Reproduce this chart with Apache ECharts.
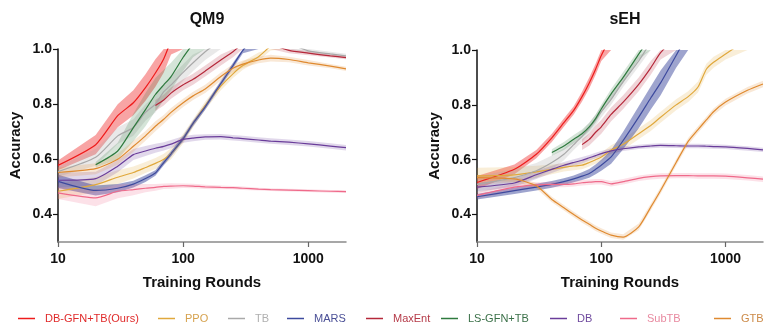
<!DOCTYPE html>
<html>
<head>
<meta charset="utf-8">
<script src="https://cdn.jsdelivr.net/npm/echarts@6.0.0/dist/echarts.min.js"></script>
<title>QM9 / sEH</title>
<style>body{margin:0;background:#fff}</style>
</head>
<body>
<div id="main" style="width:764px;height:326px;"></div>
<script type="text/javascript">

var xTicks = [10, 100, 1000];
var yTicks = [0.4, 0.6, 0.8, 1.0];
var methods = ['DB-GFN+TB(Ours)', 'PPO', 'TB', 'MARS', 'MaxEnt', 'LS-GFN+TB', 'DB', 'SubTB', 'GTB'];

// QM9
var rounds_qm9 = [10, 20, 30, 40, 50, 60, 70, 80, 100, 120, 150, 200, 250, 300, 400, 500, 700, 1000, 1500, 2000];
var qm9_dbgfn = [0.578, 0.653, 0.758, 0.805, 0.86, 0.913, 0.965, 1.03, 1.12, null, null, null, null, null, null, null, null, null, null, null];
var qm9_dbgfn_sd = [0.018, 0.035, 0.042, 0.045, 0.048, 0.05, 0.05, 0.05, 0.05, null, null, null, null, null, null, null, null, null, null, null];
var qm9_ppo = [0.484, 0.508, 0.535, 0.552, 0.57, 0.585, 0.60, 0.62, 0.675, 0.73, 0.795, 0.865, 0.91, 0.94, 0.972, 1.01, 1.05, null, null, null];
var qm9_ppo_sd = [0.028, 0.028, 0.025, 0.022, 0.02, 0.02, 0.02, 0.02, 0.018, 0.015, 0.015, 0.015, 0.015, 0.015, 0.015, 0.015, 0.015, null, null, null];
var qm9_tb = [0.555, 0.607, 0.685, 0.715, 0.77, 0.80, 0.845, 0.87, 0.915, 0.95, 0.99, 1.03, 1.05, 1.05, 1.05, 1.04, 1.02, 0.993, 0.982, 0.975];
var qm9_tb_sd = [0.018, 0.03, 0.03, 0.03, 0.03, 0.03, 0.03, 0.03, 0.03, 0.03, 0.03, 0.03, 0.03, 0.03, 0.03, 0.02, 0.015, 0.01, 0.008, 0.008];
var qm9_mars = [0.52, 0.487, 0.495, 0.51, 0.53, 0.55, 0.588, 0.62, 0.675, 0.73, 0.79, 0.875, 0.94, 0.995, 1.06, null, null, null, null, null];
var qm9_mars_sd = [0.024, 0.018, 0.015, 0.012, 0.012, 0.01, 0.01, 0.01, 0.01, 0.01, 0.01, 0.01, 0.01, 0.01, 0.01, null, null, null, null, null];
var qm9_maxent = [null, null, null, null, null, 0.795, 0.815, 0.84, 0.87, 0.89, 0.92, 0.96, 0.99, 1.02, 1.05, 1.02, 0.995, 0.985, 0.975, 0.969];
var qm9_maxent_sd = [null, null, null, null, null, 0.02, 0.02, 0.02, 0.02, 0.02, 0.02, 0.02, 0.02, 0.02, 0.02, 0.015, 0.01, 0.008, 0.006, 0.006];
var qm9_lsgfn = [null, 0.58, 0.63, 0.715, 0.78, 0.835, 0.87, 0.90, 0.97, 1.02, 1.09, null, null, null, null, null, null, null, null, null];
var qm9_lsgfn_sd = [null, 0.01, 0.03, 0.05, 0.06, 0.06, 0.055, 0.05, 0.05, 0.05, 0.05, null, null, null, null, null, null, null, null, null];
var qm9_db = [0.524, 0.53, 0.575, 0.617, 0.63, 0.64, 0.647, 0.655, 0.672, 0.677, 0.681, 0.682, 0.678, 0.675, 0.67, 0.666, 0.662, 0.656, 0.648, 0.642];
var qm9_db_sd = [0.027, 0.025, 0.022, 0.02, 0.018, 0.016, 0.015, 0.015, 0.012, 0.012, 0.01, 0.01, 0.01, 0.01, 0.01, 0.01, 0.01, 0.01, 0.01, 0.01];
var qm9_subtb = [0.478, 0.46, 0.484, 0.49, 0.495, 0.498, 0.502, 0.503, 0.504, 0.503, 0.50, 0.498, 0.497, 0.495, 0.492, 0.49, 0.488, 0.486, 0.484, 0.483];
var qm9_subtb_sd = [0.022, 0.03, 0.025, 0.02, 0.015, 0.012, 0.01, 0.01, 0.008, 0.008, 0.008, 0.007, 0.006, 0.006, 0.005, 0.005, 0.005, 0.005, 0.005, 0.005];
var qm9_gtb = [0.552, 0.566, 0.60, 0.647, 0.685, 0.72, 0.745, 0.77, 0.805, 0.83, 0.855, 0.90, 0.93, 0.945, 0.96, 0.967, 0.962, 0.95, 0.938, 0.928];
var qm9_gtb_sd = [0.018, 0.02, 0.02, 0.02, 0.018, 0.018, 0.016, 0.016, 0.015, 0.015, 0.015, 0.015, 0.015, 0.013, 0.012, 0.012, 0.01, 0.01, 0.008, 0.008];

// sEH
var rounds_seh = [10, 20, 30, 40, 50, 60, 70, 80, 90, 100, 120, 150, 200, 250, 300, 400, 500, 600, 700, 800, 1000, 1500, 2000];
var seh_dbgfn = [0.517, 0.565, 0.62, 0.68, 0.735, 0.78, 0.83, 0.88, 0.93, 0.98, 1.05, null, null, null, null, null, null, null, null, null, null, null, null];
var seh_dbgfn_sd = [0.024, 0.018, 0.015, 0.015, 0.015, 0.015, 0.018, 0.02, 0.02, 0.02, 0.02, null, null, null, null, null, null, null, null, null, null, null, null];
var seh_ppo = [0.541, 0.545, 0.556, 0.565, 0.572, 0.577, 0.58, 0.59, 0.60, 0.61, 0.635, 0.656, 0.695, 0.725, 0.755, 0.80, 0.83, 0.865, 0.93, 0.955, 0.985, 1.04, null];
var seh_ppo_sd = [0.03, 0.028, 0.022, 0.018, 0.015, 0.015, 0.015, 0.015, 0.015, 0.015, 0.018, 0.02, 0.02, 0.02, 0.02, 0.02, 0.02, 0.02, 0.02, 0.02, 0.02, 0.02, null];
var seh_tb = [0.51, 0.535, 0.56, 0.59, 0.62, 0.655, 0.685, 0.715, 0.745, 0.775, 0.82, 0.885, 0.96, 1.03, null, null, null, null, null, null, null, null, null];
var seh_tb_sd = [0.03, 0.03, 0.028, 0.025, 0.022, 0.02, 0.02, 0.02, 0.02, 0.02, 0.02, 0.02, 0.02, 0.02, null, null, null, null, null, null, null, null, null];
var seh_mars = [0.465, 0.487, 0.50, 0.51, 0.52, 0.53, 0.54, 0.55, 0.565, 0.58, 0.61, 0.67, 0.755, 0.825, 0.88, 0.98, 1.06, null, null, null, null, null, null];
var seh_mars_sd = [0.01, 0.012, 0.012, 0.012, 0.012, 0.012, 0.014, 0.016, 0.018, 0.02, 0.025, 0.032, 0.04, 0.042, 0.045, 0.045, 0.045, null, null, null, null, null, null];
var seh_maxent = [null, null, null, null, null, null, 0.655, 0.674, 0.70, 0.72, 0.765, 0.81, 0.875, 0.935, 0.99, 1.05, null, null, null, null, null, null, null];
var seh_maxent_sd = [null, null, null, null, null, null, 0.02, 0.022, 0.025, 0.025, 0.025, 0.025, 0.025, 0.025, 0.025, 0.025, null, null, null, null, null, null, null];
var seh_lsgfn = [null, null, null, 0.626, 0.65, 0.675, 0.695, 0.72, 0.75, 0.785, 0.84, 0.90, 0.985, 1.05, null, null, null, null, null, null, null, null, null];
var seh_lsgfn_sd = [null, null, null, 0.012, 0.015, 0.015, 0.015, 0.015, 0.015, 0.015, 0.018, 0.02, 0.02, 0.02, null, null, null, null, null, null, null, null, null];
var seh_db = [0.50, 0.515, 0.545, 0.565, 0.58, 0.59, 0.598, 0.607, 0.615, 0.622, 0.632, 0.64, 0.647, 0.65, 0.652, 0.651, 0.65, 0.65, 0.649, 0.648, 0.647, 0.641, 0.636];
var seh_db_sd = [0.015, 0.015, 0.015, 0.013, 0.012, 0.012, 0.012, 0.01, 0.01, 0.01, 0.01, 0.008, 0.008, 0.008, 0.008, 0.008, 0.008, 0.008, 0.008, 0.008, 0.008, 0.008, 0.008];
var seh_subtb = [0.47, 0.50, 0.508, 0.51, 0.51, 0.512, 0.516, 0.518, 0.52, 0.52, 0.512, 0.52, 0.532, 0.538, 0.541, 0.542, 0.542, 0.541, 0.541, 0.541, 0.54, 0.534, 0.529];
var seh_subtb_sd = [0.012, 0.012, 0.01, 0.01, 0.01, 0.01, 0.01, 0.01, 0.01, 0.01, 0.01, 0.01, 0.01, 0.01, 0.01, 0.01, 0.01, 0.01, 0.01, 0.01, 0.01, 0.01, 0.01];
var seh_gtb = [0.535, 0.53, 0.505, 0.455, 0.425, 0.40, 0.38, 0.365, 0.35, 0.34, 0.325, 0.318, 0.355, 0.427, 0.488, 0.59, 0.667, 0.71, 0.745, 0.775, 0.81, 0.853, 0.876];
var seh_gtb_sd = [0.01, 0.01, 0.01, 0.01, 0.01, 0.01, 0.01, 0.01, 0.01, 0.01, 0.01, 0.01, 0.012, 0.012, 0.012, 0.012, 0.012, 0.012, 0.012, 0.012, 0.012, 0.012, 0.012];

var lineColors = ['#ee1c1c', '#e0a83c', '#a9a9a9', '#3d4a9e', '#b5283a', '#2e7a3e', '#6a3d9a', '#ef6a8a', '#df8a30'];
var textColors = ['#e02a2a', '#d6a24e', '#b0b0b0', '#4a4f96', '#b53a48', '#3a7048', '#6f4a9e', '#e88aa0', '#cc8a48'];
var bandOpacity = [0.4, 0.2, 0.25, 0.5, 0.2, 0.2, 0.2, 0.2, 0.2];
var legendLeft = [18, 158, 228, 287, 366, 441, 550, 620, 714];

var qm9Data = [[qm9_dbgfn, qm9_dbgfn_sd], [qm9_ppo, qm9_ppo_sd], [qm9_tb, qm9_tb_sd], [qm9_mars, qm9_mars_sd],
    [qm9_maxent, qm9_maxent_sd], [qm9_lsgfn, qm9_lsgfn_sd], [qm9_db, qm9_db_sd], [qm9_subtb, qm9_subtb_sd], [qm9_gtb, qm9_gtb_sd]];
var sehData = [[seh_dbgfn, seh_dbgfn_sd], [seh_ppo, seh_ppo_sd], [seh_tb, seh_tb_sd], [seh_mars, seh_mars_sd],
    [seh_maxent, seh_maxent_sd], [seh_lsgfn, seh_lsgfn_sd], [seh_db, seh_db_sd], [seh_subtb, seh_subtb_sd], [seh_gtb, seh_gtb_sd]];

function makeSeries(k, rounds, mean, sd, gi) {
    var band = [], line = [];
    rounds.forEach(function (x, i) {
        if (mean[i] == null) return;
        band.push([x, mean[i] - sd[i], mean[i] + sd[i]]);
        line.push([x, mean[i]]);
    });
    var color = lineColors[k], op = bandOpacity[k];
    return [{
        type: 'custom', xAxisIndex: gi, yAxisIndex: gi, silent: true,
        data: band, encode: { x: 0, y: [1, 2] },
        renderItem: function (params, api) {
            // whole band drawn once, as one polygon
            if (params.dataIndex !== 0) return null;
            var upper = band.map(function (d) { return api.coord([d[0], d[2]]); });
            var lower = band.map(function (d) { return api.coord([d[0], d[1]]); }).reverse();
            var cs = params.coordSys;
            var pts = echarts.graphic.clipPointsByRect(upper.concat(lower),
                { x: cs.x, y: cs.y, width: cs.width, height: cs.height });
            return { type: 'polygon', shape: { points: pts }, style: { fill: color, opacity: op } };
        }
    }, {
        name: methods[k], type: 'line', xAxisIndex: gi, yAxisIndex: gi,
        data: line, symbol: 'none', smooth: 0.2,
        lineStyle: { color: color, width: 1.2 }, itemStyle: { color: color }
    }];
}

var series = [];
for (var k = 0; k < methods.length; k++) {
    series = series.concat(makeSeries(k, rounds_qm9, qm9Data[k][0], qm9Data[k][1], 0));
    series = series.concat(makeSeries(k, rounds_seh, sehData[k][0], sehData[k][1], 1));
}

function xAxisOpt(gi) {
    return {
        type: 'log', logBase: 10, min: 10, max: 2000, gridIndex: gi,
        name: 'Training Rounds', nameLocation: 'middle', nameGap: 33,
        nameTextStyle: { fontSize: 15, fontWeight: 'bold', color: '#111', fontFamily: 'Liberation Sans' },
        axisLine: { lineStyle: { color: '#8a8a8a', width: 1.5 } },
        axisTick: { customValues: xTicks, length: 5, lineStyle: { color: '#666', width: 1.2 } },
        axisLabel: { customValues: xTicks, margin: 10, fontSize: 14, fontWeight: 'bold', color: '#111', fontFamily: 'Liberation Sans',
            formatter: function (v) { return String(Math.round(v)); } },
        splitLine: { show: false }, minorTick: { show: false }
    };
}
function yAxisOpt(gi) {
    return {
        type: 'value', min: 0.3, max: 1.0, gridIndex: gi,
        name: 'Accuracy', nameLocation: 'middle', nameGap: 35,
        nameTextStyle: { fontSize: 15, fontWeight: 'bold', color: '#111', fontFamily: 'Liberation Sans' },
        axisLine: { show: true, lineStyle: { color: '#111', width: 1.5 } },
        axisTick: { show: true, customValues: yTicks, length: 5, lineStyle: { color: '#111', width: 1.2 } },
        axisLabel: { customValues: yTicks, margin: 6, fontSize: 14, fontWeight: 'bold', color: '#111', fontFamily: 'Liberation Sans',
            formatter: function (v) { return v.toFixed(1); } },
        splitLine: { show: false }
    };
}

var legends = methods.map(function (m, k) {
    return {
        data: [{ name: m, icon: 'rect' }], left: legendLeft[k], top: 313,
        itemWidth: 17, itemHeight: 1.5, padding: 0,
        textStyle: { color: textColors[k], fontSize: 11, fontFamily: 'Liberation Sans', padding: [0, 0, 0, 5] }
    };
});

var myChart = echarts.init(document.getElementById('main'));
var option = {
    animation: false,
    backgroundColor: '#fff',
    title: [
        { text: 'QM9', left: 202, top: 7, textAlign: 'center', textStyle: { fontSize: 16, fontWeight: 'bold', color: '#111', fontFamily: 'Liberation Sans' } },
        { text: 'sEH', left: 620, top: 7, textAlign: 'center', textStyle: { fontSize: 16, fontWeight: 'bold', color: '#111', fontFamily: 'Liberation Sans' } }
    ],
    legend: legends,
    grid: [
        { left: 58, top: 49, width: 288, height: 193 },
        { left: 477, top: 50, width: 286, height: 192 }
    ],
    xAxis: [xAxisOpt(0), xAxisOpt(1)],
    yAxis: [yAxisOpt(0), yAxisOpt(1)],
    series: series
};
myChart.setOption(option);

</script>
</body>
</html>
